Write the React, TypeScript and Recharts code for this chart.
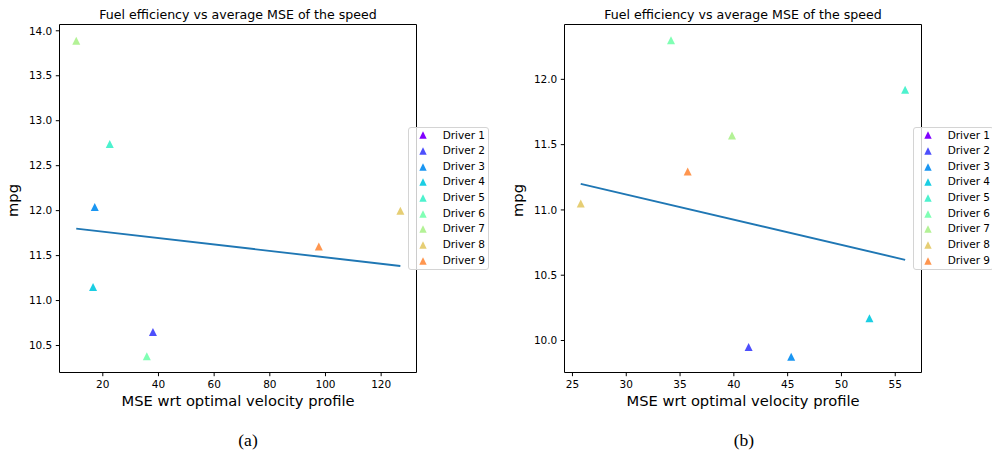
import React from 'react';
import { ScatterChart, Scatter, XAxis, YAxis, ReferenceArea, Legend } from 'recharts';

// ---------- data ----------
const drivers = ['Driver 1', 'Driver 2', 'Driver 3', 'Driver 4', 'Driver 5', 'Driver 6', 'Driver 7', 'Driver 8', 'Driver 9'];
const driverColors = ['#8000ff', '#4d4ffc', '#1a96f2', '#1acee3', '#4df2ce', '#80ffb4', '#b3f296', '#e6ce74', '#ff964f'];

// panel (a)
const mseA: (number | null)[] = [null, 38.0, 17.1, 16.5, 22.5, 35.8, 10.45, 126.9, 97.6];
const mpgA: (number | null)[] = [null, 10.65, 12.04, 11.15, 12.74, 10.38, 13.89, 12.0, 11.6];
const fitAx = [10.45, 126.9];
const fitAy = [11.8, 11.385];
const ticksAX = [20, 40, 60, 80, 100, 120];
const ticksAY = [10.5, 11.0, 11.5, 12.0, 12.5, 13.0, 13.5, 14.0];

// panel (b)
const mseB: (number | null)[] = [null, 41.37, 45.33, 52.6, 55.92, 34.16, 39.83, 25.77, 35.71];
const mpgB: (number | null)[] = [null, 9.95, 9.875, 10.17, 11.92, 12.3, 11.57, 11.05, 11.295];
const fitBx = [25.77, 55.92];
const fitBy = [11.2, 10.618];
const ticksBX = [25, 30, 35, 40, 45, 50, 55];
const ticksBY = [10.0, 10.5, 11.0, 11.5, 12.0];

const titleText = 'Fuel efficiency vs average MSE of the speed';
const xLabelText = 'MSE wrt optimal velocity profile';
const yLabelText = 'mpg';
const captions = ['(a)', '(b)'];

// ---------- helpers ----------
const FONT = 'DejaVu Sans, Verdana, sans-serif';
const FIT_COLOR = '#1f77b4';

const Tri = ({ cx, cy, fill, s = 4 }: { cx: number; cy: number; fill: string; s?: number }) => (
  <polygon points={`${cx},${cy - s} ${cx - s},${cy + s} ${cx + s},${cy + s}`} fill={fill} />
);

const LegendBox = (props: any) => {
  const items = (props.payload || []).filter((p: any) => p.type !== 'none' && p.value !== 'fit');
  return (
    <div
      style={{
        width: 81,
        height: 143,
        boxSizing: 'border-box',
        border: '1px solid #d4d4d4',
        borderRadius: 3,
        background: 'rgba(255,255,255,0.8)',
        fontFamily: FONT,
        fontSize: 10.5,
        color: '#000',
        paddingTop: 0,
      }}
    >
      {items.map((e: any) => (
        <div key={e.value} style={{ position: 'relative', height: 15.66 }}>
          <svg width={10} height={10} style={{ position: 'absolute', left: 9, top: 2.8 }}>
            <Tri cx={5} cy={5} fill={e.color} s={3.7} />
          </svg>
          <span style={{ position: 'absolute', left: 33.7, top: 0, lineHeight: '15.66px', whiteSpace: 'nowrap' }}>
            {e.value}
          </span>
        </div>
      ))}
    </div>
  );
};

type PanelProps = {
  mse: (number | null)[];
  mpg: (number | null)[];
  fitX: number[];
  fitY: number[];
  ticksX: number[];
  ticksY: number[];
  xDomain: [number, number];
  yDomain: [number, number];
  yAxisWidth: number;
  marginRight: number;
};

const Panel = ({ mse, mpg, fitX, fitY, ticksX, ticksY, xDomain, yDomain, yAxisWidth, marginRight }: PanelProps) => {
  const fitData = fitX.map((x, i) => ({ x, y: fitY[i] }));
  const tickStyle = { fill: '#000', fontSize: 10.5, fontFamily: FONT };
  return (
    <ScatterChart width={496} height={458} margin={{ top: 24.5, right: marginRight, bottom: 0, left: 0 }}>
      <XAxis
        type="number"
        dataKey="x"
        domain={xDomain}
        ticks={ticksX}
        allowDataOverflow
        axisLine={false}
        tickLine={{ stroke: '#000' }}
        tickSize={3.7}
        tickMargin={4}
        tick={tickStyle}
        height={85.5}
        interval={0}
        label={{
          content: (p: any) => {
            const vb = p.viewBox || { x: yAxisWidth, y: 372.5, width: 357 };
            return (
              <text x={vb.x + vb.width / 2} y={vb.y + 33} textAnchor="middle" fontFamily={FONT} fontSize={14.7} fill="#000">
                {xLabelText}
              </text>
            );
          },
        }}
      />
      <YAxis
        type="number"
        dataKey="y"
        domain={yDomain}
        ticks={ticksY}
        allowDataOverflow
        axisLine={false}
        tickLine={{ stroke: '#000' }}
        tickSize={3.7}
        tickMargin={3.5}
        tick={tickStyle}
        tickFormatter={(v: number) => v.toFixed(1)}
        width={yAxisWidth}
        interval={0}
        label={{
          content: (p: any) => {
            const vb = p.viewBox || { x: 0, y: 24.5, height: 348 };
            const cx = vb.x + 18.3 + (yAxisWidth - 59.5);
            const cy = vb.y + vb.height / 2 + 2;
            return (
              <text
                x={cx}
                y={cy}
                transform={`rotate(-90 ${cx} ${cy})`}
                textAnchor="middle"
                fontFamily={FONT}
                fontSize={14.7}
                fill="#000"
              >
                {yLabelText}
              </text>
            );
          },
        }}
      />
      <ReferenceArea
        x1={xDomain[0]}
        x2={xDomain[1]}
        y1={yDomain[0]}
        y2={yDomain[1]}
        fill="none"
        fillOpacity={0}
        stroke="#000"
        strokeWidth={1}
        strokeOpacity={1}
      />
      <Scatter
        name="fit"
        data={fitData}
        line={{ stroke: FIT_COLOR, strokeWidth: 1.9 }}
        shape={() => <g />}
        legendType="none"
        isAnimationActive={false}
      />
      {drivers.map((d, i) => {
        const pts = mse[i] != null && mpg[i] != null ? [{ x: mse[i] as number, y: mpg[i] as number }] : [];
        const c = driverColors[i];
        return (
          <Scatter
            key={d}
            name={d}
            data={pts}
            fill={c}
            legendType="triangle"
            isAnimationActive={false}
            shape={(p: any) => <Tri cx={p.cx} cy={p.cy} fill={c} />}
          />
        );
      })}
      <Legend
        layout="vertical"
        align="center"
        verticalAlign="middle"
        content={<LegendBox />}
        wrapperStyle={{ position: 'absolute', left: 496 - marginRight - 8.5, top: 126.5, width: 81, height: 143 }}
      />
    </ScatterChart>
  );
};

export default function App() {
  return (
    <div style={{ position: 'absolute', left: 0, top: 0, width: 992, height: 458, background: '#fff', overflow: 'hidden' }}>
      <div style={{ position: 'absolute', left: 0, top: 0 }}>
        <Panel
          mse={mseA}
          mpg={mpgA}
          fitX={fitAx}
          fitY={fitAy}
          ticksX={ticksAX}
          ticksY={ticksAY}
          xDomain={[4.44, 132.7]}
          yDomain={[10.2, 14.07]}
          yAxisWidth={59.5}
          marginRight={79.5}
        />
      </div>
      <div style={{ position: 'absolute', left: 496, top: 0 }}>
        <Panel
          mse={mseB}
          mpg={mpgB}
          fitX={fitBx}
          fitY={fitBy}
          ticksX={ticksBX}
          ticksY={ticksBY}
          xDomain={[24.26, 57.44]}
          yDomain={[9.755, 12.42]}
          yAxisWidth={68.5}
          marginRight={70.5}
        />
      </div>
      <svg width={992} height={458} style={{ position: 'absolute', left: 0, top: 0, pointerEvents: 'none' }}>
        <text x={238} y={18.5} textAnchor="middle" fontFamily={FONT} fontSize={12.6} fill="#000">
          {titleText}
        </text>
        <text x={743} y={18.5} textAnchor="middle" fontFamily={FONT} fontSize={12.6} fill="#000">
          {titleText}
        </text>
        <text x={248} y={446} textAnchor="middle" fontFamily="Liberation Serif, Times New Roman, serif" fontSize={17.5} fill="#000">
          {captions[0]}
        </text>
        <text x={744} y={446} textAnchor="middle" fontFamily="Liberation Serif, Times New Roman, serif" fontSize={17.5} fill="#000">
          {captions[1]}
        </text>
      </svg>
    </div>
  );
}
